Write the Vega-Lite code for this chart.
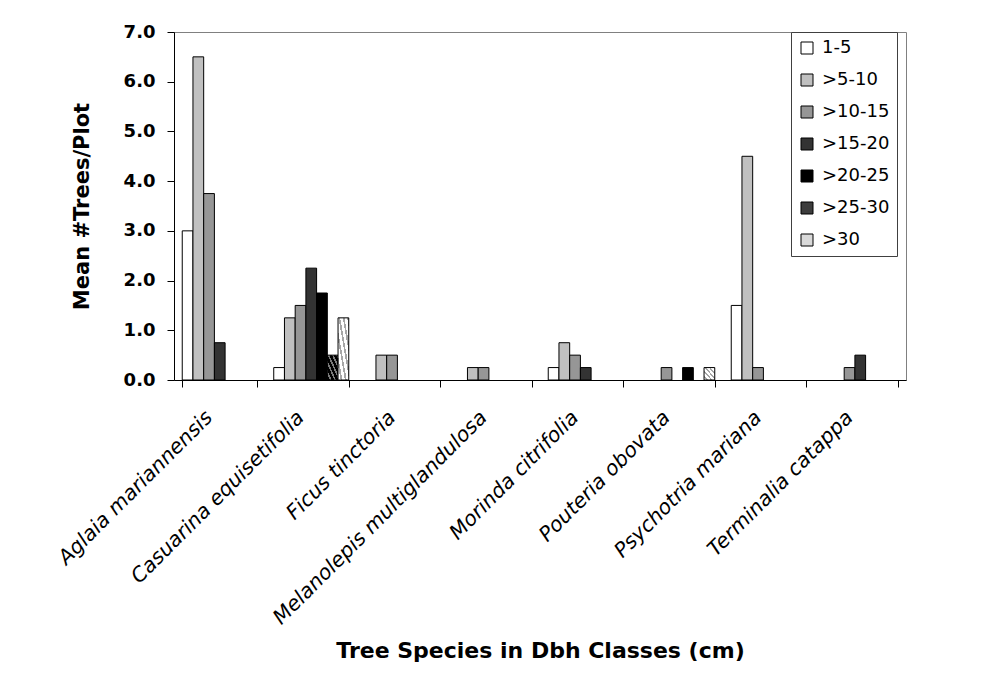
{
  "$schema": "https://vega.github.io/schema/vega-lite/v6.json",
  "width": 732,
  "height": 348,
  "autosize": {"type": "none"},
  "padding": {"left": 174, "top": 32, "right": 91, "bottom": 297},
  "background": "white",
  "data": {
    "values": [
      {"species": "Aglaia mariannensis", "cls": "1-5", "mean": 3.0},
      {"species": "Aglaia mariannensis", "cls": ">5-10", "mean": 6.5},
      {"species": "Aglaia mariannensis", "cls": ">10-15", "mean": 3.75},
      {"species": "Aglaia mariannensis", "cls": ">15-20", "mean": 0.75},
      {"species": "Casuarina equisetifolia", "cls": "1-5", "mean": 0.25},
      {"species": "Casuarina equisetifolia", "cls": ">5-10", "mean": 1.25},
      {"species": "Casuarina equisetifolia", "cls": ">10-15", "mean": 1.5},
      {"species": "Casuarina equisetifolia", "cls": ">15-20", "mean": 2.25},
      {"species": "Casuarina equisetifolia", "cls": ">20-25", "mean": 1.75},
      {"species": "Casuarina equisetifolia", "cls": ">25-30", "mean": 0.5},
      {"species": "Casuarina equisetifolia", "cls": ">30", "mean": 1.25},
      {"species": "Ficus tinctoria", "cls": ">5-10", "mean": 0.5},
      {"species": "Ficus tinctoria", "cls": ">10-15", "mean": 0.5},
      {"species": "Melanolepis multiglandulosa", "cls": ">5-10", "mean": 0.25},
      {"species": "Melanolepis multiglandulosa", "cls": ">10-15", "mean": 0.25},
      {"species": "Morinda citrifolia", "cls": "1-5", "mean": 0.25},
      {"species": "Morinda citrifolia", "cls": ">5-10", "mean": 0.75},
      {"species": "Morinda citrifolia", "cls": ">10-15", "mean": 0.5},
      {"species": "Morinda citrifolia", "cls": ">15-20", "mean": 0.25},
      {"species": "Pouteria obovata", "cls": ">10-15", "mean": 0.25},
      {"species": "Pouteria obovata", "cls": ">20-25", "mean": 0.25},
      {"species": "Pouteria obovata", "cls": ">30", "mean": 0.25},
      {"species": "Psychotria mariana", "cls": "1-5", "mean": 1.5},
      {"species": "Psychotria mariana", "cls": ">5-10", "mean": 4.5},
      {"species": "Psychotria mariana", "cls": ">10-15", "mean": 0.25},
      {"species": "Terminalia catappa", "cls": ">10-15", "mean": 0.25},
      {"species": "Terminalia catappa", "cls": ">15-20", "mean": 0.5}
    ]
  },
  "mark": {"type": "bar", "stroke": "black", "strokeWidth": 1},
  "encoding": {
    "x": {
      "field": "species",
      "type": "nominal",
      "sort": null,
      "scale": {"paddingInner": 0.18, "paddingOuter": 0.09},
      "axis": {
        "title": "Tree Species in Dbh Classes (cm)",
        "titleFont": "DejaVu Sans",
        "titleFontSize": 22,
        "titleFontWeight": "bold",
        "titleColor": "black",
        "titlePadding": 60,
        "labelFont": "DejaVu Sans",
        "labelFontSize": 20.5,
        "labelFontStyle": "italic",
        "labelColor": "black",
        "labelAngle": -45,
        "labelLimit": 400,
        "labelPadding": 20,
        "labelOffset": -18,
        "tickBand": "extent",
        "tickColor": "black",
        "tickSize": 7,
        "domainColor": "black",
        "grid": false
      }
    },
    "xOffset": {
      "field": "cls",
      "type": "nominal",
      "scale": {"domain": ["1-5", ">5-10", ">10-15", ">15-20", ">20-25", ">25-30", ">30"], "paddingInner": 0, "paddingOuter": 0}
    },
    "y": {
      "field": "mean",
      "type": "quantitative",
      "scale": {"domain": [0, 7], "nice": false},
      "axis": {
        "title": "Mean #Trees/Plot",
        "titleFont": "DejaVu Sans",
        "titleFontSize": 21,
        "titleFontWeight": "bold",
        "titleColor": "black",
        "titlePadding": 31,
        "values": [0, 1, 2, 3, 4, 5, 6, 7],
        "format": ".1f",
        "labelFont": "DejaVu Sans",
        "labelFontSize": 18,
        "labelFontWeight": "bold",
        "labelColor": "black",
        "labelPadding": 12,
        "tickColor": "black",
        "tickSize": 7,
        "domainColor": "black",
        "grid": false
      }
    },
    "fill": {
      "condition": [
        {"test": "datum.cls === '>25-30'", "value": {"gradient": "linear", "x1": 0, "y1": 1, "x2": 1, "y2": 0, "stops": [
            {"offset": 0, "color": "#000000"}, {"offset": 0.12, "color": "#000000"},
            {"offset": 0.12, "color": "#7a7a7a"}, {"offset": 0.2, "color": "#7a7a7a"},
            {"offset": 0.2, "color": "#000000"}, {"offset": 0.32, "color": "#000000"},
            {"offset": 0.32, "color": "#7a7a7a"}, {"offset": 0.4, "color": "#7a7a7a"},
            {"offset": 0.4, "color": "#000000"}, {"offset": 0.52, "color": "#000000"},
            {"offset": 0.52, "color": "#7a7a7a"}, {"offset": 0.6, "color": "#7a7a7a"},
            {"offset": 0.6, "color": "#000000"}, {"offset": 0.72, "color": "#000000"},
            {"offset": 0.72, "color": "#7a7a7a"}, {"offset": 0.8, "color": "#7a7a7a"},
            {"offset": 0.8, "color": "#000000"}, {"offset": 0.92, "color": "#000000"},
            {"offset": 0.92, "color": "#7a7a7a"}, {"offset": 1, "color": "#7a7a7a"}
          ]}},
        {"test": "datum.cls === '>30'", "value": {"gradient": "linear", "x1": 0, "y1": 1, "x2": 1, "y2": 0, "stops": [
            {"offset": 0, "color": "#ffffff"}, {"offset": 0.12, "color": "#ffffff"},
            {"offset": 0.12, "color": "#a6a6a6"}, {"offset": 0.2, "color": "#a6a6a6"},
            {"offset": 0.2, "color": "#ffffff"}, {"offset": 0.32, "color": "#ffffff"},
            {"offset": 0.32, "color": "#a6a6a6"}, {"offset": 0.4, "color": "#a6a6a6"},
            {"offset": 0.4, "color": "#ffffff"}, {"offset": 0.52, "color": "#ffffff"},
            {"offset": 0.52, "color": "#a6a6a6"}, {"offset": 0.6, "color": "#a6a6a6"},
            {"offset": 0.6, "color": "#ffffff"}, {"offset": 0.72, "color": "#ffffff"},
            {"offset": 0.72, "color": "#a6a6a6"}, {"offset": 0.8, "color": "#a6a6a6"},
            {"offset": 0.8, "color": "#ffffff"}, {"offset": 0.92, "color": "#ffffff"},
            {"offset": 0.92, "color": "#a6a6a6"}, {"offset": 1, "color": "#a6a6a6"}
          ]}}
      ],
      "field": "cls",
      "type": "nominal",
      "scale": {
        "domain": ["1-5", ">5-10", ">10-15", ">15-20", ">20-25", ">25-30", ">30"],
        "range": ["#ffffff", "#c0c0c0", "#969696", "#333333", "#000000", "#3d3d3d", "#d9d9d9"]
      },
      "legend": {
        "title": null,
        "orient": "none",
        "legendX": 617,
        "legendY": 0,
        "padding": 7,
        "fillColor": "white",
        "strokeColor": "#404040",
        "symbolType": "square",
        "symbolSize": 144,
        "symbolStrokeColor": "black",
        "symbolStrokeWidth": 1,
        "symbolOpacity": 1,
        "labelFont": "DejaVu Sans",
        "labelFontSize": 18,
        "labelColor": "black",
        "labelOffset": 6,
        "rowPadding": 14,
        "labelLimit": 200
      }
    }
  },
  "config": {
    "view": {"stroke": "#808080", "strokeWidth": 1}
  }
}
